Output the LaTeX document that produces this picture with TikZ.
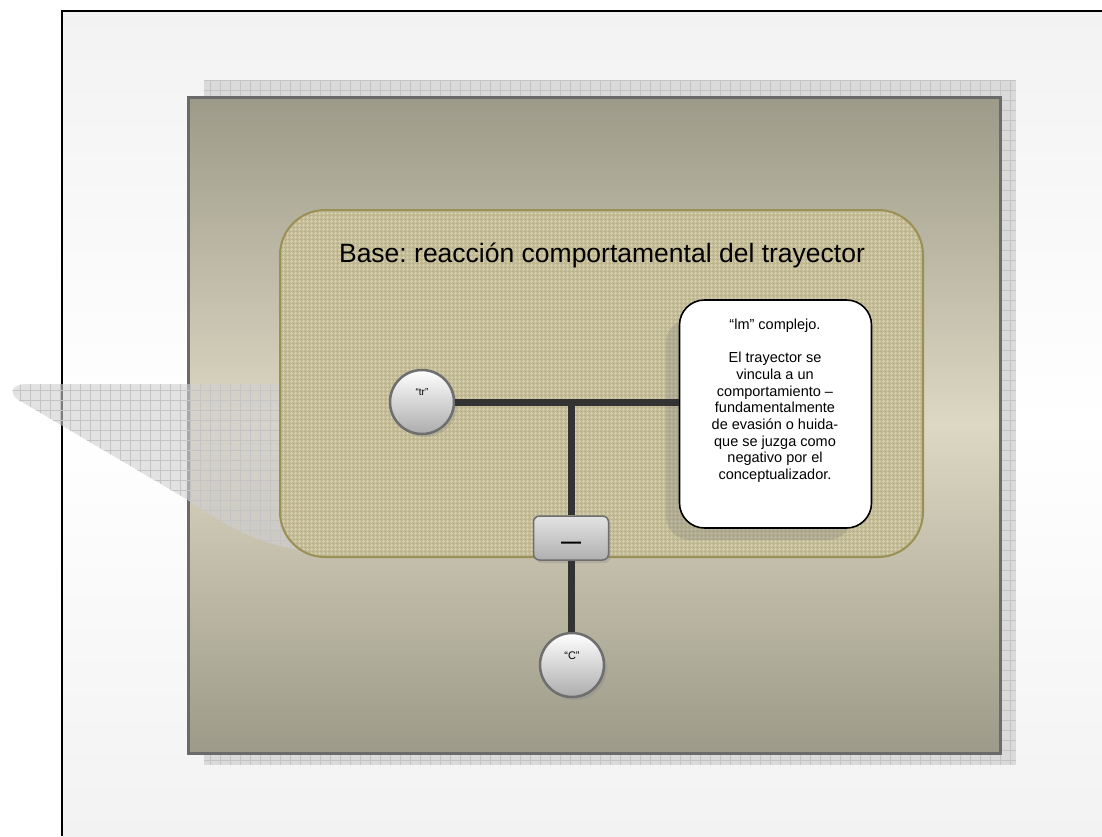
\documentclass[tikz,border=0pt]{standalone}
\usepackage{fontspec}
\setmainfont{Liberation Sans}
\usepackage{tikz}
\usetikzlibrary{positioning}
\usetikzlibrary{shadows}
\usetikzlibrary{patterns.meta}
\frenchspacing

\definecolor{frameback}{HTML}{F2F2F2}
\definecolor{panelout}{HTML}{9D9A89}
\definecolor{panelmid}{HTML}{DDD8C3}
\definecolor{panelrim}{HTML}{6A6A6A}
\definecolor{gridfill}{HTML}{DADADA}
\definecolor{gridline}{HTML}{C4C4C4}
\definecolor{hazefill}{HTML}{D0D0D0}
\definecolor{basefill}{HTML}{BDB690}
\definecolor{basehatch}{HTML}{D3CDAB}
\definecolor{baserim}{HTML}{9A8F55}
\definecolor{linkgray}{HTML}{333333}
\definecolor{ballrim}{HTML}{6E6E6E}

\begin{document}
\begin{tikzpicture}[
            x = 1pt, y = -1pt, % pixel units, y runs down
            link/.style = {line width = 7pt, draw = linkgray}, % thick connectors
            gridded/.style = {path picture = {
                \draw[gridline, line width = .8pt, step = 10pt]
                    (path picture bounding box.south west) grid
                    (path picture bounding box.north east);}}
        ]

        \tikzstyle{ball}=[
            circle,
            draw = ballrim,
            line width = 2.5pt,
            top color = white,
            bottom color = gray!65,
            minimum size = 64pt,
            inner sep = 0pt,
            drop shadow = {shadow xshift = 3pt, shadow yshift = -3pt, opacity = .25}
        ]
        \tikzstyle{negbox}=[
            rectangle,
            rounded corners = 6pt,
            draw = ballrim,
            line width = 1.5pt,
            top color = gray!22,
            bottom color = gray!62,
            minimum width = 75pt,
            minimum height = 44pt,
            drop shadow = {shadow xshift = 2pt, shadow yshift = -3pt, opacity = .25}
        ]
        \tikzstyle{basebox}=[
            rectangle,
            rounded corners = 45pt,
            draw = baserim,
            line width = 2pt,
            preaction = {fill = basefill},
            pattern = {Hatch[distance = 4pt, line width = 1pt]},
            pattern color = basehatch,
            minimum width = 643pt,
            minimum height = 347pt
        ]
        \tikzstyle{lmbox}=[
            rectangle,
            rounded corners = 25pt,
            draw = black,
            line width = 1.6pt,
            fill = white,
            minimum width = 192pt,
            minimum height = 228pt,
            drop shadow = {shadow xshift = -17pt, shadow yshift = -16pt,
                           shadow scale = .97, opacity = .28}
        ]

        \useasboundingbox (0,0) rectangle (1102,836);

	% SLIDE FRAME
        \fill[white] (0,0) rectangle (1102,836);
        \shade[top color = frameback, bottom color = frameback, middle color = white]
            (62,11) rectangle (1102,836);
        \draw[line width = 2pt] (1102,11) -- (62,11) -- (62,836);

	% PANEL WITH ITS GRID SHADOW
        \path[fill = gridfill, gridded] (204,80) rectangle (1016,765);
        \shade[top color = panelout, bottom color = panelout, middle color = panelmid]
            (188,97) rectangle (1000,753);
        \draw[panelrim, line width = 3pt] (188,97) rectangle (1000,753);

	% SHADOW POINTING LEFT
        \path[fill = hazefill, fill opacity = .6, gridded]
            (25,384) -- (560,384) -- (560,552) -- (320,552)
            .. controls (260,548) and (225,525) .. (188,500)
            -- (22,402) .. controls (8,395) and (10,385) .. (25,384) -- cycle;

	% BASE
        \node[basebox] (BASE) at (601.5,383.5) {};
        \node[anchor = base, font = \fontsize{26.5}{30}\selectfont] (TITLE)
            at (602,262) {Base: reacción comportamental del trayector};

	% LANDMARK
        \node[lmbox] (LM) at (775.5,414) {};
        \node[align = center, font = \fontsize{14.5}{16.7}\selectfont] (LMTEXT)
            at (775,401) {“lm” complejo.\\[16pt]
            El trayector se\\
            vincula a un\\
            comportamiento –\\
            fundamentalmente\\
            de evasión o huida-\\
            que se juzga como\\
            negativo por el\\
            conceptualizador.};

	% TRAJECTOR, NEGATION AND CONCEPTUALIZER
        \node[ball] (TR) at (422,402) {};
        \node[font = \fontsize{10}{12}\selectfont] (TRTEXT) at ([yshift = 10pt]TR.center) {“tr”};
        \node[negbox] (NEG) at (571,538) {};
        \node[font = \fontsize{20}{20}\selectfont\bfseries] (NEGSIGN)
            at ([yshift = -7pt]NEG.center) {—};
        \node[ball] (C) at (572,665) {};
        \node[font = \fontsize{11}{13}\selectfont] (CTEXT) at ([yshift = 9pt]C.center) {“C”};

        \draw[link] (TR.east) -- (TR.east -| LM.west);
        \draw[link] (NEG |- TR) -- (NEG.north);
        \draw[link] (NEG.south) -- (NEG.south |- C.north);

  \end{tikzpicture}
\end{document}
